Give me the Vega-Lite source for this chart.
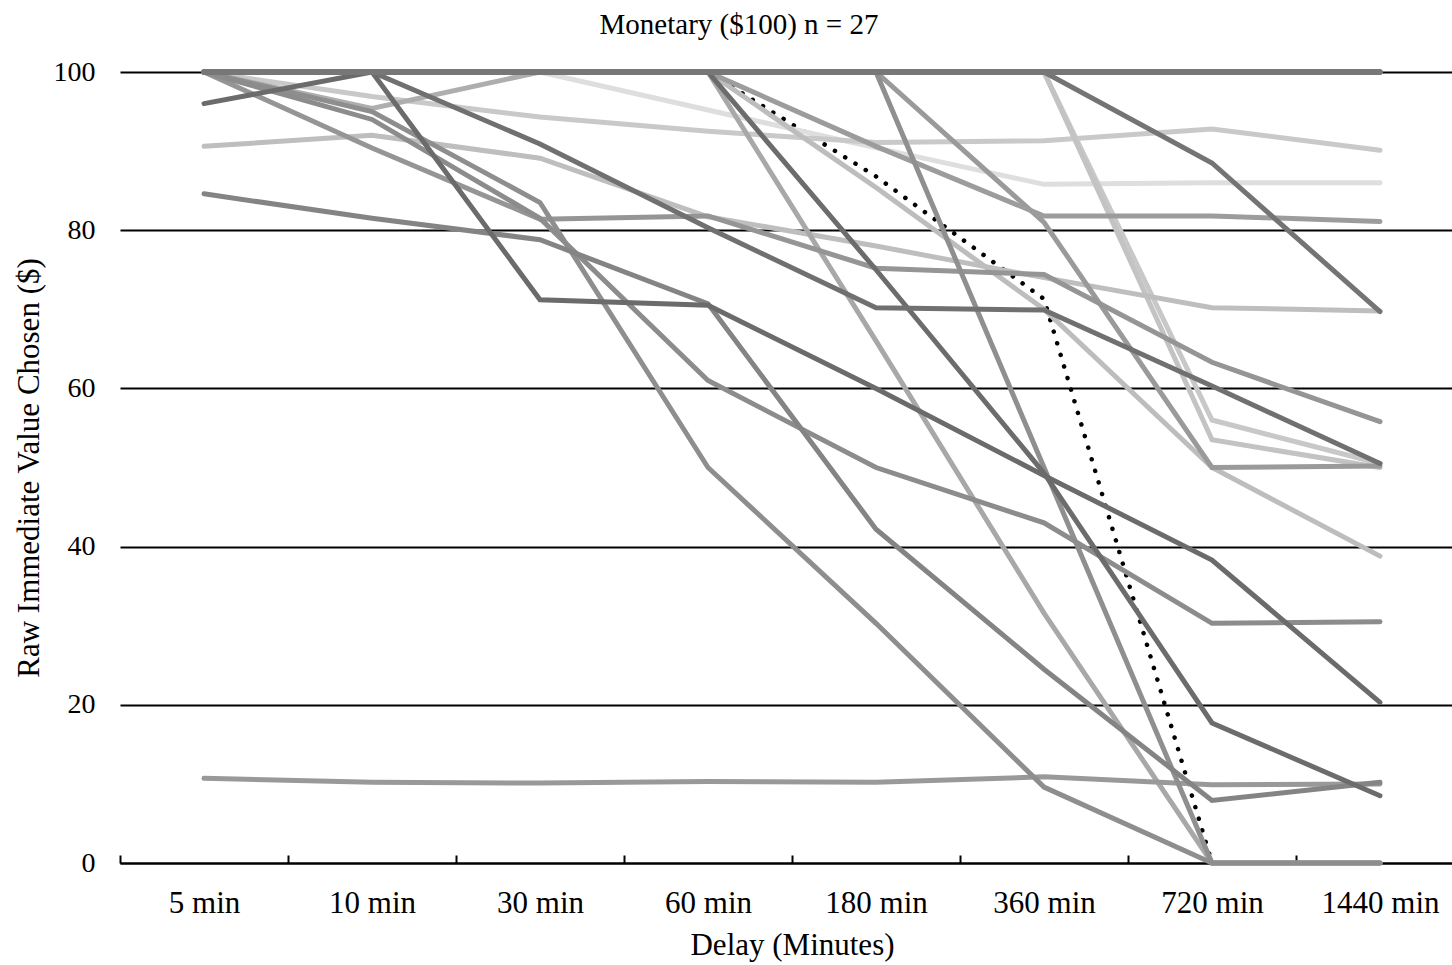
{
  "$schema": "https://vega.github.io/schema/vega-lite/v6.json",
  "width": 1344,
  "height": 791,
  "autosize": "none",
  "padding": {"left": 120, "top": 72, "right": 0, "bottom": 102},
  "background": "white",
  "config": {"view": {"stroke": null}, "font": "Liberation Serif"},
  "title": {"text": "Monetary ($100) n = 27", "anchor": "middle", "frame": "bounds", "font": "Liberation Serif", "fontSize": 29, "fontWeight": "normal", "color": "black", "offset": 18},
  "datasets": {
    "dotted": [
      {"delay": "5 min", "value": 100}, {"delay": "10 min", "value": 100}, {"delay": "30 min", "value": 100}, {"delay": "60 min", "value": 100},
      {"delay": "180 min", "value": 86.8}, {"delay": "360 min", "value": 71.3}, {"delay": "720 min", "value": 0}, {"delay": "1440 min", "value": 0}
    ],
    "subjects": [
      {"id": "P10", "delay": "5 min", "value": 100}, {"id": "P10", "delay": "10 min", "value": 100}, {"id": "P10", "delay": "30 min", "value": 100}, {"id": "P10", "delay": "60 min", "value": 95.2}, {"id": "P10", "delay": "180 min", "value": 90.4}, {"id": "P10", "delay": "360 min", "value": 85.8}, {"id": "P10", "delay": "720 min", "value": 86}, {"id": "P10", "delay": "1440 min", "value": 86},
      {"id": "P09", "delay": "5 min", "value": 100}, {"id": "P09", "delay": "10 min", "value": 96.9}, {"id": "P09", "delay": "30 min", "value": 94.3}, {"id": "P09", "delay": "60 min", "value": 92.5}, {"id": "P09", "delay": "180 min", "value": 91.1}, {"id": "P09", "delay": "360 min", "value": 91.3}, {"id": "P09", "delay": "720 min", "value": 92.8}, {"id": "P09", "delay": "1440 min", "value": 90.1},
      {"id": "P25", "delay": "5 min", "value": 100}, {"id": "P25", "delay": "10 min", "value": 100}, {"id": "P25", "delay": "30 min", "value": 100}, {"id": "P25", "delay": "60 min", "value": 100}, {"id": "P25", "delay": "180 min", "value": 100}, {"id": "P25", "delay": "360 min", "value": 100}, {"id": "P25", "delay": "720 min", "value": 56}, {"id": "P25", "delay": "1440 min", "value": 50.5},
      {"id": "P26", "delay": "5 min", "value": 100}, {"id": "P26", "delay": "10 min", "value": 100}, {"id": "P26", "delay": "30 min", "value": 100}, {"id": "P26", "delay": "60 min", "value": 100}, {"id": "P26", "delay": "180 min", "value": 100}, {"id": "P26", "delay": "360 min", "value": 100}, {"id": "P26", "delay": "720 min", "value": 53.5}, {"id": "P26", "delay": "1440 min", "value": 50},
      {"id": "P21", "delay": "5 min", "value": 100}, {"id": "P21", "delay": "10 min", "value": 100}, {"id": "P21", "delay": "30 min", "value": 100}, {"id": "P21", "delay": "60 min", "value": 100}, {"id": "P21", "delay": "180 min", "value": 85.4}, {"id": "P21", "delay": "360 min", "value": 70}, {"id": "P21", "delay": "720 min", "value": 50}, {"id": "P21", "delay": "1440 min", "value": 38.8},
      {"id": "P12", "delay": "5 min", "value": 90.6}, {"id": "P12", "delay": "10 min", "value": 92}, {"id": "P12", "delay": "30 min", "value": 89.1}, {"id": "P12", "delay": "60 min", "value": 81.7}, {"id": "P12", "delay": "180 min", "value": 78}, {"id": "P12", "delay": "360 min", "value": 74}, {"id": "P12", "delay": "720 min", "value": 70.2}, {"id": "P12", "delay": "1440 min", "value": 69.8},
      {"id": "P11", "delay": "5 min", "value": 100}, {"id": "P11", "delay": "10 min", "value": 95.4}, {"id": "P11", "delay": "30 min", "value": 100}, {"id": "P11", "delay": "60 min", "value": 100}, {"id": "P11", "delay": "180 min", "value": 100}, {"id": "P11", "delay": "360 min", "value": 100}, {"id": "P11", "delay": "720 min", "value": 100}, {"id": "P11", "delay": "1440 min", "value": 100},
      {"id": "P20", "delay": "5 min", "value": 100}, {"id": "P20", "delay": "10 min", "value": 100}, {"id": "P20", "delay": "30 min", "value": 100}, {"id": "P20", "delay": "60 min", "value": 100}, {"id": "P20", "delay": "180 min", "value": 66}, {"id": "P20", "delay": "360 min", "value": 31.6}, {"id": "P20", "delay": "720 min", "value": 0}, {"id": "P20", "delay": "1440 min", "value": 0},
      {"id": "P23", "delay": "5 min", "value": 100}, {"id": "P23", "delay": "10 min", "value": 100}, {"id": "P23", "delay": "30 min", "value": 100}, {"id": "P23", "delay": "60 min", "value": 100}, {"id": "P23", "delay": "180 min", "value": 100}, {"id": "P23", "delay": "360 min", "value": 81}, {"id": "P23", "delay": "720 min", "value": 50}, {"id": "P23", "delay": "1440 min", "value": 50.2},
      {"id": "P18", "delay": "5 min", "value": 100}, {"id": "P18", "delay": "10 min", "value": 100}, {"id": "P18", "delay": "30 min", "value": 100}, {"id": "P18", "delay": "60 min", "value": 100}, {"id": "P18", "delay": "180 min", "value": 90.6}, {"id": "P18", "delay": "360 min", "value": 81.8}, {"id": "P18", "delay": "720 min", "value": 81.8}, {"id": "P18", "delay": "1440 min", "value": 81.1},
      {"id": "P17", "delay": "5 min", "value": 100}, {"id": "P17", "delay": "10 min", "value": 90.4}, {"id": "P17", "delay": "30 min", "value": 81.4}, {"id": "P17", "delay": "60 min", "value": 81.8}, {"id": "P17", "delay": "180 min", "value": 75.2}, {"id": "P17", "delay": "360 min", "value": 74.4}, {"id": "P17", "delay": "720 min", "value": 63.3}, {"id": "P17", "delay": "1440 min", "value": 55.8},
      {"id": "P14", "delay": "5 min", "value": 10.7}, {"id": "P14", "delay": "10 min", "value": 10.2}, {"id": "P14", "delay": "30 min", "value": 10.1}, {"id": "P14", "delay": "60 min", "value": 10.3}, {"id": "P14", "delay": "180 min", "value": 10.2}, {"id": "P14", "delay": "360 min", "value": 10.9}, {"id": "P14", "delay": "720 min", "value": 9.9}, {"id": "P14", "delay": "1440 min", "value": 10},
      {"id": "P22", "delay": "5 min", "value": 100}, {"id": "P22", "delay": "10 min", "value": 100}, {"id": "P22", "delay": "30 min", "value": 100}, {"id": "P22", "delay": "60 min", "value": 100}, {"id": "P22", "delay": "180 min", "value": 100}, {"id": "P22", "delay": "360 min", "value": 50}, {"id": "P22", "delay": "720 min", "value": 0}, {"id": "P22", "delay": "1440 min", "value": 0},
      {"id": "P15", "delay": "5 min", "value": 100}, {"id": "P15", "delay": "10 min", "value": 95}, {"id": "P15", "delay": "30 min", "value": 83.5}, {"id": "P15", "delay": "60 min", "value": 50}, {"id": "P15", "delay": "180 min", "value": 30.3}, {"id": "P15", "delay": "360 min", "value": 9.6}, {"id": "P15", "delay": "720 min", "value": 0}, {"id": "P15", "delay": "1440 min", "value": 0},
      {"id": "P16", "delay": "5 min", "value": 100}, {"id": "P16", "delay": "10 min", "value": 94}, {"id": "P16", "delay": "30 min", "value": 81.5}, {"id": "P16", "delay": "60 min", "value": 61}, {"id": "P16", "delay": "180 min", "value": 50}, {"id": "P16", "delay": "360 min", "value": 43}, {"id": "P16", "delay": "720 min", "value": 30.3}, {"id": "P16", "delay": "1440 min", "value": 30.5},
      {"id": "P13", "delay": "5 min", "value": 84.6}, {"id": "P13", "delay": "10 min", "value": 81.5}, {"id": "P13", "delay": "30 min", "value": 78.8}, {"id": "P13", "delay": "60 min", "value": 70.7}, {"id": "P13", "delay": "180 min", "value": 42.2}, {"id": "P13", "delay": "360 min", "value": 24.5}, {"id": "P13", "delay": "720 min", "value": 7.9}, {"id": "P13", "delay": "1440 min", "value": 10.2},
      {"id": "P24", "delay": "5 min", "value": 100}, {"id": "P24", "delay": "10 min", "value": 100}, {"id": "P24", "delay": "30 min", "value": 100}, {"id": "P24", "delay": "60 min", "value": 100}, {"id": "P24", "delay": "180 min", "value": 100}, {"id": "P24", "delay": "360 min", "value": 100}, {"id": "P24", "delay": "720 min", "value": 88.5}, {"id": "P24", "delay": "1440 min", "value": 69.7},
      {"id": "P19", "delay": "5 min", "value": 100}, {"id": "P19", "delay": "10 min", "value": 100}, {"id": "P19", "delay": "30 min", "value": 100}, {"id": "P19", "delay": "60 min", "value": 100}, {"id": "P19", "delay": "180 min", "value": 75}, {"id": "P19", "delay": "360 min", "value": 49.3}, {"id": "P19", "delay": "720 min", "value": 17.7}, {"id": "P19", "delay": "1440 min", "value": 8.5},
      {"id": "P08", "delay": "5 min", "value": 100}, {"id": "P08", "delay": "10 min", "value": 100}, {"id": "P08", "delay": "30 min", "value": 90.9}, {"id": "P08", "delay": "60 min", "value": 80.3}, {"id": "P08", "delay": "180 min", "value": 70.2}, {"id": "P08", "delay": "360 min", "value": 69.9}, {"id": "P08", "delay": "720 min", "value": 60.3}, {"id": "P08", "delay": "1440 min", "value": 50.5},
      {"id": "P07", "delay": "5 min", "value": 96}, {"id": "P07", "delay": "10 min", "value": 100}, {"id": "P07", "delay": "30 min", "value": 71.2}, {"id": "P07", "delay": "60 min", "value": 70.5}, {"id": "P07", "delay": "180 min", "value": 60}, {"id": "P07", "delay": "360 min", "value": 49}, {"id": "P07", "delay": "720 min", "value": 38.3}, {"id": "P07", "delay": "1440 min", "value": 20.3},
      {"id": "P01", "delay": "5 min", "value": 100}, {"id": "P01", "delay": "10 min", "value": 100}, {"id": "P01", "delay": "30 min", "value": 100}, {"id": "P01", "delay": "60 min", "value": 100}, {"id": "P01", "delay": "180 min", "value": 100}, {"id": "P01", "delay": "360 min", "value": 100}, {"id": "P01", "delay": "720 min", "value": 100}, {"id": "P01", "delay": "1440 min", "value": 100},
      {"id": "P02", "delay": "5 min", "value": 100}, {"id": "P02", "delay": "10 min", "value": 100}, {"id": "P02", "delay": "30 min", "value": 100}, {"id": "P02", "delay": "60 min", "value": 100}, {"id": "P02", "delay": "180 min", "value": 100}, {"id": "P02", "delay": "360 min", "value": 100}, {"id": "P02", "delay": "720 min", "value": 100}, {"id": "P02", "delay": "1440 min", "value": 100},
      {"id": "P03", "delay": "5 min", "value": 100}, {"id": "P03", "delay": "10 min", "value": 100}, {"id": "P03", "delay": "30 min", "value": 100}, {"id": "P03", "delay": "60 min", "value": 100}, {"id": "P03", "delay": "180 min", "value": 100}, {"id": "P03", "delay": "360 min", "value": 100}, {"id": "P03", "delay": "720 min", "value": 100}, {"id": "P03", "delay": "1440 min", "value": 100},
      {"id": "P04", "delay": "5 min", "value": 100}, {"id": "P04", "delay": "10 min", "value": 100}, {"id": "P04", "delay": "30 min", "value": 100}, {"id": "P04", "delay": "60 min", "value": 100}, {"id": "P04", "delay": "180 min", "value": 100}, {"id": "P04", "delay": "360 min", "value": 100}, {"id": "P04", "delay": "720 min", "value": 100}, {"id": "P04", "delay": "1440 min", "value": 100},
      {"id": "P05", "delay": "5 min", "value": 100}, {"id": "P05", "delay": "10 min", "value": 100}, {"id": "P05", "delay": "30 min", "value": 100}, {"id": "P05", "delay": "60 min", "value": 100}, {"id": "P05", "delay": "180 min", "value": 100}, {"id": "P05", "delay": "360 min", "value": 100}, {"id": "P05", "delay": "720 min", "value": 100}, {"id": "P05", "delay": "1440 min", "value": 100},
      {"id": "P06", "delay": "5 min", "value": 100}, {"id": "P06", "delay": "10 min", "value": 100}, {"id": "P06", "delay": "30 min", "value": 100}, {"id": "P06", "delay": "60 min", "value": 100}, {"id": "P06", "delay": "180 min", "value": 100}, {"id": "P06", "delay": "360 min", "value": 100}, {"id": "P06", "delay": "720 min", "value": 100}, {"id": "P06", "delay": "1440 min", "value": 100},
      {"id": "P27", "delay": "5 min", "value": 100}, {"id": "P27", "delay": "10 min", "value": 100}, {"id": "P27", "delay": "30 min", "value": 100}, {"id": "P27", "delay": "60 min", "value": 100}, {"id": "P27", "delay": "180 min", "value": 100}, {"id": "P27", "delay": "360 min", "value": 100}, {"id": "P27", "delay": "720 min", "value": 100}, {"id": "P27", "delay": "1440 min", "value": 100}
    ]
  },
  "encoding": {
    "x": {
      "field": "delay", "type": "ordinal",
      "sort": ["5 min", "10 min", "30 min", "60 min", "180 min", "360 min", "720 min", "1440 min"],
      "scale": {"type": "band", "paddingInner": 0, "paddingOuter": 0},
      "bandPosition": 0.5,
      "axis": {
        "title": "Delay (Minutes)", "labelAngle": 0, "tickBand": "extent",
        "tickSize": -8, "tickWidth": 2, "tickColor": "black",
        "domainColor": "black", "domainWidth": 2,
        "labelFont": "Liberation Serif", "labelFontSize": 31, "labelColor": "black", "labelPadding": 33,
        "titleFont": "Liberation Serif", "titleFontSize": 31, "titleFontWeight": "normal", "titleColor": "black", "titlePadding": 12,
        "grid": false
      }
    },
    "y": {
      "field": "value", "type": "quantitative",
      "scale": {"domain": [0, 100], "nice": false},
      "axis": {
        "title": "Raw Immediate Value Chosen ($)", "values": [0, 20, 40, 60, 80, 100],
        "grid": true, "gridColor": "black", "gridWidth": 2, "gridOpacity": 1,
        "domain": false, "ticks": false,
        "labelFont": "Liberation Serif", "labelFontSize": 28, "labelColor": "black", "labelPadding": 25,
        "titleFont": "Liberation Serif", "titleFontSize": 31, "titleFontWeight": "normal", "titleColor": "black", "titlePadding": 8
      }
    }
  },
  "layer": [
    {
      "data": {"name": "dotted"},
      "mark": {"type": "line", "color": "black", "strokeWidth": 4.5, "strokeDash": [0.1, 12], "strokeCap": "round"}
    },
    {
      "data": {"name": "subjects"},
      "mark": {"type": "line", "strokeWidth": 5, "strokeCap": "round"},
      "encoding": {
        "color": {
          "field": "id", "type": "nominal", "legend": null,
          "scale": {
            "domain": ["P10", "P09", "P25", "P26", "P21", "P12", "P11", "P20", "P23", "P18", "P17", "P14", "P22", "P15", "P16", "P13", "P24", "P19", "P08", "P07", "P01", "P02", "P03", "P04", "P05", "P06", "P27"],
            "range": ["#dedede", "#c9c9c9", "#c8c8c8", "#c3c3c3", "#bdbdbd", "#bebebe", "#aeaeae", "#a8a8a8", "#9a9a9a", "#9c9c9c", "#959595", "#999999", "#8f8f8f", "#8e8e8e", "#8c8c8c", "#848484", "#747474", "#6c6c6c", "#707070", "#6b6b6b", "#7a7a7a", "#7a7a7a", "#7a7a7a", "#7a7a7a", "#7a7a7a", "#7a7a7a", "#777777"]
          }
        }
      }
    }
  ]
}
